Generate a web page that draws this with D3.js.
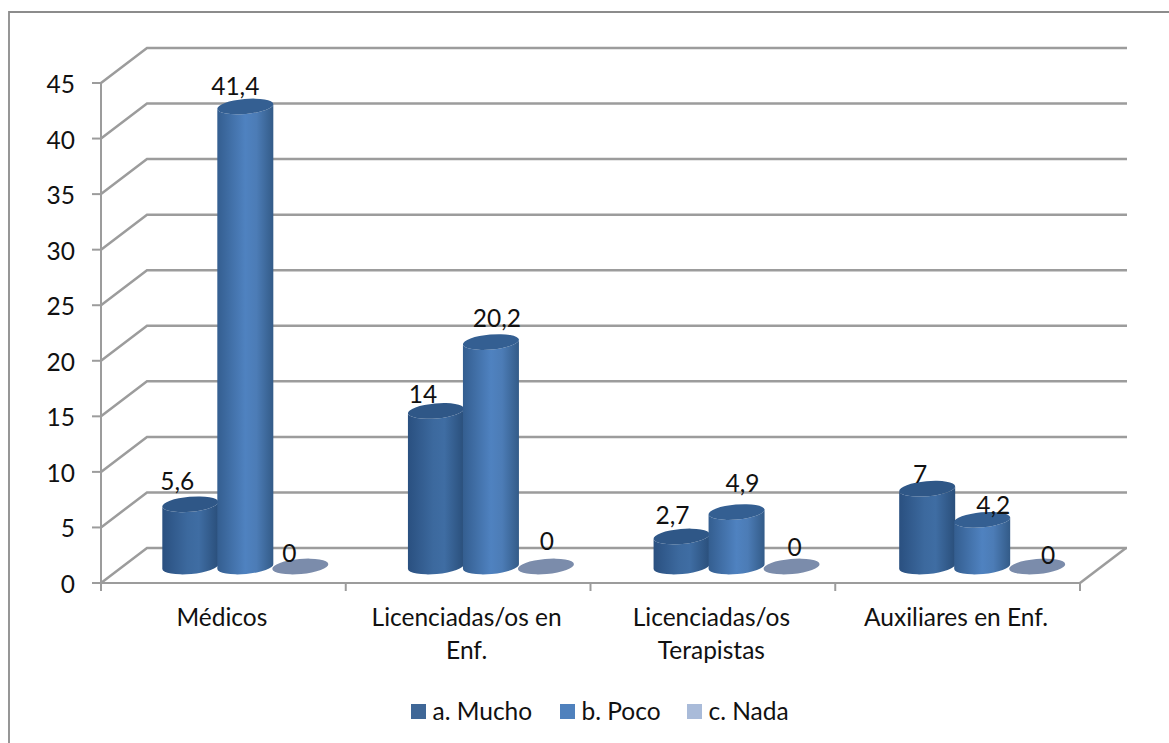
<!DOCTYPE html>
<html>
<head>
<meta charset="utf-8">
<script src="https://cdn.jsdelivr.net/npm/d3@7/dist/d3.min.js"></script>
<style>
  html, body { margin: 0; padding: 0; background: #fff; }
  text { font-family: Lato, "Open Sans", sans-serif; fill: #111; }
</style>
</head>
<body>
<div id="chart"></div>
<script>
const width = 1169;
const height = 743;

const categories = [['Médicos'], ['Licenciadas/os en', 'Enf.'], ['Licenciadas/os', 'Terapistas'], ['Auxiliares en Enf.']];
const seriesNames = ['a. Mucho', 'b. Poco', 'c. Nada'];
const mucho = [5.6, 14, 2.7, 7];
const poco = [41.4, 20.2, 4.9, 4.2];
const nada = [0, 0, 0, 0];
const yTicks = [0, 5, 10, 15, 20, 25, 30, 35, 40, 45];

// depth of the 3d box and the hand moved data labels from the original
const depthX = 46, depthY = -35;
const labelShift = [
  [[-13, -24], [-10, -22], [-11, -15]],
  [[-13, -18], [6, -25], [1, -27]],
  [[-9, -23], [6, -30], [3, -21]],
  [[-7, -16], [11, -16], [11, -13]]
];
const legendColors = ['#3f6797', '#4f81bd', '#a9bbd9'];
const fontSize = 24.5;

const svg = d3.select('#chart').append('svg')
  .attr('width', width).attr('height', height)
  .style('display', 'block');

// Frame around the chart, the picture is cut off on the right and bottom
svg.append('path')
  .attr('d', `M9 ${height}V12H${width}`)
  .attr('fill', 'none').attr('stroke', '#8c8c8c').attr('stroke-width', 1.8);

const x = d3.scaleBand().domain(d3.range(categories.length)).range([101, 1080]);
const y = d3.scaleLinear().domain([0, 45]).range([583, 83]);
// bars sit on a slightly wider band than the axis ticks
const barX = d3.scaleBand().domain(d3.range(categories.length)).range([122.5, 1105]);
const seriesX = d3.scalePoint().domain(d3.range(3)).range([-55, 55]);

// Gradients for the cylinders
const defs = svg.append('defs');
function addGradient(id, stops) {
  const g = defs.append('linearGradient').attr('id', id);
  stops.forEach(s => g.append('stop').attr('offset', s[0]).attr('stop-color', s[1]));
}
addGradient('bodyA', [[0, '#2a5080'], [0.45, '#3c699e'], [0.65, '#3f6da3'], [1, '#2a4f7b']]);
addGradient('bodyB', [[0, '#345e90'], [0.5, '#4f82c0'], [0.7, '#4c7cb6'], [1, '#335b88']]);

// Walls and floor
const gridColor = '#9c9c9c';
const grid = svg.append('g').attr('fill', 'none').attr('stroke', gridColor).attr('stroke-width', 2.5);
yTicks.forEach(t => {
  grid.append('path')
    .attr('d', `M${x.range()[0]} ${y(t)}L${x.range()[0] + depthX} ${y(t) + depthY}H${x.range()[1] + depthX + 1}`);
});
grid.append('path')
  .attr('d', `M${x.range()[1] + depthX} ${y(0) + depthY}L${x.range()[1]} ${y(0)}`);

const axisG = svg.append('g').attr('fill', 'none').attr('stroke', gridColor).attr('stroke-width', 2);
axisG.append('path').attr('d', `M${x.range()[0]} ${y(45)}V${y(0)}H${x.range()[1]}`);
yTicks.forEach(t => {
  axisG.append('path').attr('d', `M${x.range()[0] - 9} ${y(t)}H${x.range()[0]}`);
});
d3.range(categories.length + 1).forEach(i => {
  const px = x.range()[0] + i * x.bandwidth();
  axisG.append('path').attr('d', `M${px} ${y(0)}V${y(0) + 8}`);
});

// y tick labels
svg.append('g').selectAll('text').data(yTicks).join('text')
  .attr('x', 75).attr('y', d => y(d)).attr('dy', '0.41em')
  .attr('text-anchor', 'end').attr('font-size', fontSize)
  .text(d => d);

// Cylinders
const rx = 28, ry = 7.5, tilt = 2.5;
function topEllipse(cx, cy) {
  return `M${cx - rx} ${cy + tilt}A${rx} ${ry} -5 0 1 ${cx + rx} ${cy - tilt}A${rx} ${ry} -5 0 1 ${cx - rx} ${cy + tilt}Z`;
}
function cylinderBody(cx, base, top) {
  return `M${cx - rx} ${top + tilt}V${base + tilt}A${rx} ${ry} -5 0 0 ${cx + rx} ${base - tilt}V${top - tilt}` +
    `A${rx} ${ry} -5 0 1 ${cx - rx} ${top + tilt}Z`;
}

const allSeries = [mucho, poco, nada];
const bars = svg.append('g');
const labels = [];
categories.forEach((c, i) => {
  allSeries.forEach((values, s) => {
    const v = values[i];
    const cx = barX(i) + barX.bandwidth() / 2 + seriesX(s);
    const base = y(0) + depthY / 2 + 1;
    const top = y(v) + depthY / 2 + 1;
    if (v > 0) {
      bars.append('path').attr('d', cylinderBody(cx, base, top))
        .attr('fill', `url(#body${s === 0 ? 'A' : 'B'})`);
      bars.append('path').attr('d', topEllipse(cx, top))
        .attr('fill', s === 0 ? '#2f5787' : '#345f92');
    } else {
      bars.append('path').attr('d', topEllipse(cx, top)).attr('fill', '#7b8cab');
    }
    labels.push({ v, px: cx + labelShift[i][s][0], py: top + labelShift[i][s][1] });
  });
});

// Data labels, comma as decimal mark
svg.append('g').selectAll('text').data(labels).join('text')
  .attr('x', d => d.px).attr('y', d => d.py).attr('dy', '0.41em')
  .attr('text-anchor', 'middle').attr('font-size', fontSize)
  .text(d => String(d.v).replace('.', ','));

// Category labels
const catG = svg.append('g');
categories.forEach((lines, i) => {
  lines.forEach((line, k) => {
    catG.append('text')
      .attr('x', x(i) + x.bandwidth() / 2 - 1.5).attr('y', 617 + k * 33).attr('dy', '0.35em')
      .attr('text-anchor', 'middle').attr('font-size', fontSize)
      .text(line);
  });
});

// Legend
const legendX = [411, 560, 687];
const legend = svg.append('g');
seriesNames.forEach((name, i) => {
  legend.append('rect')
    .attr('x', legendX[i]).attr('y', 704).attr('width', 15).attr('height', 15)
    .attr('fill', legendColors[i]);
  legend.append('text')
    .attr('x', legendX[i] + 21.5).attr('y', 711).attr('dy', '0.35em')
    .attr('font-size', fontSize)
    .text(name);
});
</script>
</body>
</html>
